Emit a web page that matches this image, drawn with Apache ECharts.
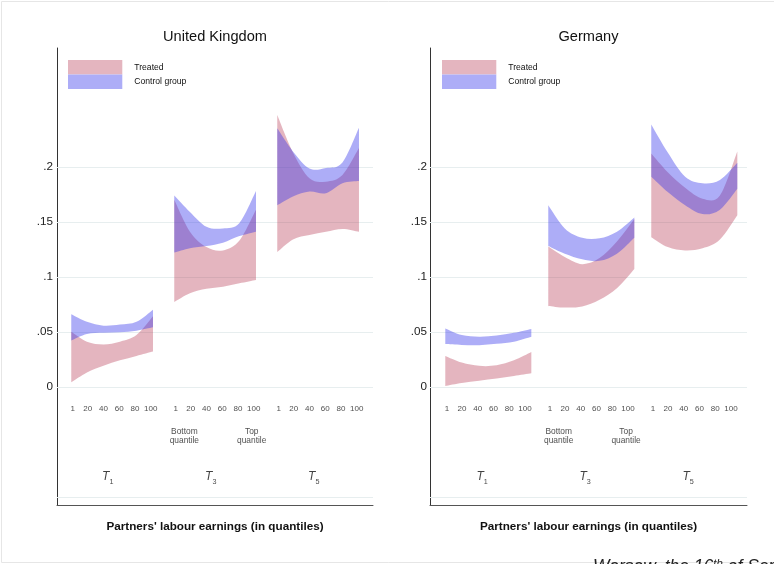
<!DOCTYPE html>
<html>
<head>
<meta charset="utf-8">
<script src="https://cdn.jsdelivr.net/npm/echarts@6/dist/echarts.min.js"></script>
<style>
  html, body { margin: 0; padding: 0; background: #fff; }
  #chart { width: 774px; height: 564px; }
</style>
</head>
<body>
<div id="chart"></div>
<script>
// Quantiles of partners' labour earnings at which the bands are evaluated
const quantiles = [1, 20, 40, 60, 80, 100];
const tickLabels = ['1', '20', '40', '60', '80', '100'];
const periodSubscripts = ['1', '3', '5'];
const yTickValues = [0, 0.05, 0.1, 0.15, 0.2];
const yGridValues = [-0.1, 0, 0.05, 0.1, 0.15, 0.2];
const countries = ['United Kingdom', 'Germany'];
const quantileNotes = ['Bottom\nquantile', 'Top\nquantile'];

// United Kingdom: confidence bands per period (T1, T3, T5)
const ukTreatedUpper = [
  [0.050, 0.041, 0.0385, 0.041, 0.047, 0.064],
  [0.170, 0.141, 0.127, 0.124, 0.133, 0.161],
  [0.247, 0.213, 0.1895, 0.1865, 0.1925, 0.217]
];
const ukTreatedLower = [
  [0.004, 0.013, 0.019, 0.024, 0.028, 0.032],
  [0.077, 0.085, 0.089, 0.091, 0.094, 0.097],
  [0.1225, 0.134, 0.138, 0.141, 0.1435, 0.141]
];
const ukControlUpper = [
  [0.066, 0.059, 0.0555, 0.0565, 0.059, 0.070],
  [0.174, 0.159, 0.1455, 0.144, 0.149, 0.178],
  [0.235, 0.214, 0.1985, 0.199, 0.204, 0.2355]
];
const ukControlLower = [
  [0.042, 0.048, 0.049, 0.0495, 0.051, 0.054],
  [0.122, 0.126, 0.128, 0.131, 0.137, 0.141],
  [0.165, 0.173, 0.1775, 0.176, 0.185, 0.187]
];

// Germany: confidence bands per period (T1, T3, T5)
const deTreatedUpper = [
  [0.028, 0.022, 0.019, 0.0195, 0.024, 0.0315],
  [0.1275, 0.118, 0.1115, 0.117, 0.132, 0.1525],
  [0.212, 0.195, 0.181, 0.171, 0.174, 0.214]
];
const deTreatedLower = [
  [0.0008, 0.0035, 0.0055, 0.0075, 0.0098, 0.0122],
  [0.0735, 0.072, 0.073, 0.079, 0.0895, 0.107],
  [0.136, 0.127, 0.124, 0.126, 0.134, 0.156]
];
const deControlUpper = [
  [0.053, 0.047, 0.0455, 0.0465, 0.049, 0.0525],
  [0.165, 0.144, 0.1355, 0.135, 0.141, 0.154],
  [0.2385, 0.213, 0.191, 0.185, 0.188, 0.2036]
];
const deControlLower = [
  [0.0388, 0.038, 0.0378, 0.039, 0.041, 0.0455],
  [0.128, 0.121, 0.116, 0.1145, 0.121, 0.1355],
  [0.191, 0.177, 0.165, 0.157, 0.161, 0.180]
];

const bands = [
  { treated: [ukTreatedLower, ukTreatedUpper], control: [ukControlLower, ukControlUpper] },
  { treated: [deTreatedLower, deTreatedUpper], control: [deControlLower, deControlUpper] }
];

// Layout of the two panels
const FONT = '"Liberation Sans", Arial, Helvetica, sans-serif';
const groupStep = 130.7;
const panels = [
  { left: 57,  width: 316, xMin: -18.9, xMax: 382.1, bandFrom: -0.8, bandTo: 102.9, titleX: 215,   legendX: 68 },
  { left: 430, width: 317, xMin: -20.6, xMax: 381.7, bandFrom: -1.2, bandTo: 108,   titleX: 588.5, legendX: 442 }
];
const yMin = -0.1075, yMax = 0.308;
const tickRowY = -0.0203, noteRowY = -0.0448, periodRowY = -0.082;
const noteAt = [12, 97.5];
const periodAt = 45.5;

const styles = {
  treated: { fill: 'rgba(178,44,72,0.35)', solid: '#e4b5bf', name: 'Treated' },
  control: { fill: 'rgba(50,50,235,0.40)', solid: '#adadf7', name: 'Control group' }
};

function bandX(p, g, q) {
  const L = panels[p];
  return g * groupStep + L.bandFrom + (q - 1) / 99 * (L.bandTo - L.bandFrom);
}

// Smooth path through pixel points (Catmull-Rom written as cubic Bezier segments)
function curvePath(pts, moveFirst) {
  let d = (moveFirst ? 'M' : 'L') + pts[0][0] + ' ' + pts[0][1];
  for (let i = 0; i < pts.length - 1; i++) {
    const p0 = pts[Math.max(i - 1, 0)], p1 = pts[i], p2 = pts[i + 1], p3 = pts[Math.min(i + 2, pts.length - 1)];
    const c1 = [p1[0] + (p2[0] - p0[0]) / 6, p1[1] + (p2[1] - p0[1]) / 6];
    const c2 = [p2[0] - (p3[0] - p1[0]) / 6, p2[1] - (p3[1] - p1[1]) / 6];
    d += ' C' + c1[0] + ' ' + c1[1] + ' ' + c2[0] + ' ' + c2[1] + ' ' + p2[0] + ' ' + p2[1];
  }
  return d;
}

const grids = [], xAxes = [], yAxes = [], titles = [], legends = [], series = [];

panels.forEach((L, p) => {
  grids.push({ left: L.left, top: 48, width: L.width, height: 457 });
  xAxes.push({
    type: 'value', gridIndex: p, min: L.xMin, max: L.xMax,
    axisLine: { show: true, onZero: false, lineStyle: { color: '#555', width: 1 } },
    axisTick: { show: false }, axisLabel: { show: false }, splitLine: { show: false },
    name: "Partners' labour earnings (in quantiles)",
    nameLocation: 'middle', nameGap: 16,
    nameTextStyle: { fontFamily: FONT, fontWeight: 'bold', fontSize: 11.7, color: '#111' }
  });
  yAxes.push({
    type: 'value', gridIndex: p, min: yMin, max: yMax,
    axisLine: { show: true, onZero: false, lineStyle: { color: '#333', width: 1 } },
    axisTick: { show: false }, splitLine: { show: false },
    axisLabel: {
      customValues: yTickValues,
      margin: p === 0 ? 4 : 3,
      fontFamily: FONT, fontSize: 11.7, color: '#222',
      formatter: v => (Math.abs(v) < 1e-9 ? '0' : String(+v.toFixed(3)).replace(/^0\./, '.'))
    }
  });
  titles.push({
    text: countries[p], left: L.titleX, top: 29.5, textAlign: 'center', padding: 0,
    textStyle: { fontFamily: FONT, fontSize: 14.6, fontWeight: 'normal', color: '#111' }
  });
  legends.push({
    left: L.legendX, top: 60, orient: 'vertical', padding: 0,
    itemWidth: 54.3, itemHeight: 14.5, itemGap: 0, icon: 'rect', selectedMode: false,
    data: ['treated', 'control'].map(k => ({ name: styles[k].name, itemStyle: { color: styles[k].solid, borderWidth: 0 } })),
    textStyle: { fontFamily: FONT, fontSize: 8.6, color: '#111', padding: [0, 0, 0, 7] }
  });

  // light horizontal grid lines
  series.push({
    type: 'line', xAxisIndex: p, yAxisIndex: p, data: [], silent: true,
    markLine: {
      z: 1, silent: true, symbol: 'none', label: { show: false },
      lineStyle: { color: '#e7eeef', width: 1, type: 'solid' },
      data: yGridValues.map(v => ({ yAxis: v }))
    }
  });

  // confidence bands: treated first, control drawn over it
  ['treated', 'control'].forEach(key => {
    const [lower, upper] = bands[p][key];
    series.push({
      type: 'custom', name: styles[key].name, xAxisIndex: p, yAxisIndex: p,
      coordinateSystem: 'cartesian2d', silent: true, z: 2,
      itemStyle: { color: styles[key].solid },
      data: lower.map((low, g) => [bandX(p, g, 1), low[0]]),
      renderItem: (params, api) => {
        const g = params.dataIndex;
        const top = quantiles.map((q, i) => api.coord([bandX(p, g, q), upper[g][i]]));
        const bottom = quantiles.map((q, i) => api.coord([bandX(p, g, q), lower[g][i]])).reverse();
        const pathData = curvePath(top, true) + ' ' + curvePath(bottom, false) + ' Z';
        return {
          type: 'path',
          shape: { pathData },
          style: { fill: styles[key].fill, stroke: null }
        };
      }
    });
  });

  // quantile tick labels under each period
  const tickData = [];
  periodSubscripts.forEach((s, g) => {
    quantiles.forEach((q, i) => {
      tickData.push({ value: [g * groupStep + q, tickRowY], label: { formatter: tickLabels[i] } });
    });
  });
  series.push({
    type: 'scatter', xAxisIndex: p, yAxisIndex: p, symbolSize: 1, silent: true, z: 3,
    itemStyle: { color: 'rgba(0,0,0,0)' },
    label: { show: true, position: 'inside', fontFamily: FONT, fontSize: 8, color: '#222' },
    data: tickData
  });

  // bottom / top quantile notes under the middle period
  series.push({
    type: 'scatter', xAxisIndex: p, yAxisIndex: p, symbolSize: 1, silent: true, z: 3,
    itemStyle: { color: 'rgba(0,0,0,0)' },
    label: { show: true, position: 'inside', fontFamily: FONT, fontSize: 8.4, lineHeight: 8.8, color: '#222', align: 'center' },
    data: quantileNotes.map((t, i) => ({ value: [groupStep + noteAt[i], noteRowY], label: { formatter: t } }))
  });

  // period labels T1, T3, T5
  series.push({
    type: 'scatter', xAxisIndex: p, yAxisIndex: p, symbolSize: 1, silent: true, z: 3,
    itemStyle: { color: 'rgba(0,0,0,0)' },
    label: {
      show: true, position: 'inside', color: '#111',
      rich: {
        t: { fontFamily: FONT, fontSize: 12, fontStyle: 'italic', color: '#111', lineHeight: 14 },
        s: { fontFamily: FONT, fontSize: 7.2, color: '#111', lineHeight: 14, verticalAlign: 'bottom', padding: [0, 0, -2, 0] }
      }
    },
    data: periodSubscripts.map((s, g) => ({ value: [g * groupStep + periodAt, periodRowY], label: { formatter: '{t|T}{s|' + s + '}' } }))
  });
});

const chart = echarts.init(document.getElementById('chart'), null, { renderer: 'canvas' });
chart.setOption({
  backgroundColor: '#fff',
  animation: false,
  title: titles,
  legend: legends,
  grid: grids,
  xAxis: xAxes,
  yAxis: yAxes,
  series: series,
  graphic: [
    {
      type: 'rect', silent: true, z: 0,
      shape: { x: 1.5, y: 1.5, width: 800, height: 561 },
      style: { fill: 'none', stroke: '#e6e6e6', lineWidth: 1 }
    },
    {
      type: 'text', silent: true, left: 593, top: 558,
      style: {
        text: '{a|Warsaw, the 16}{b|th}{a| of September}',
        rich: {
          a: { fontFamily: FONT, fontSize: 17.5, fontStyle: 'italic', fill: '#222' },
          b: { fontFamily: FONT, fontSize: 11.5, fontStyle: 'italic', fill: '#222', verticalAlign: 'top', padding: [0, 0, 6, 0] }
        }
      }
    }
  ]
});
</script>
</body>
</html>
